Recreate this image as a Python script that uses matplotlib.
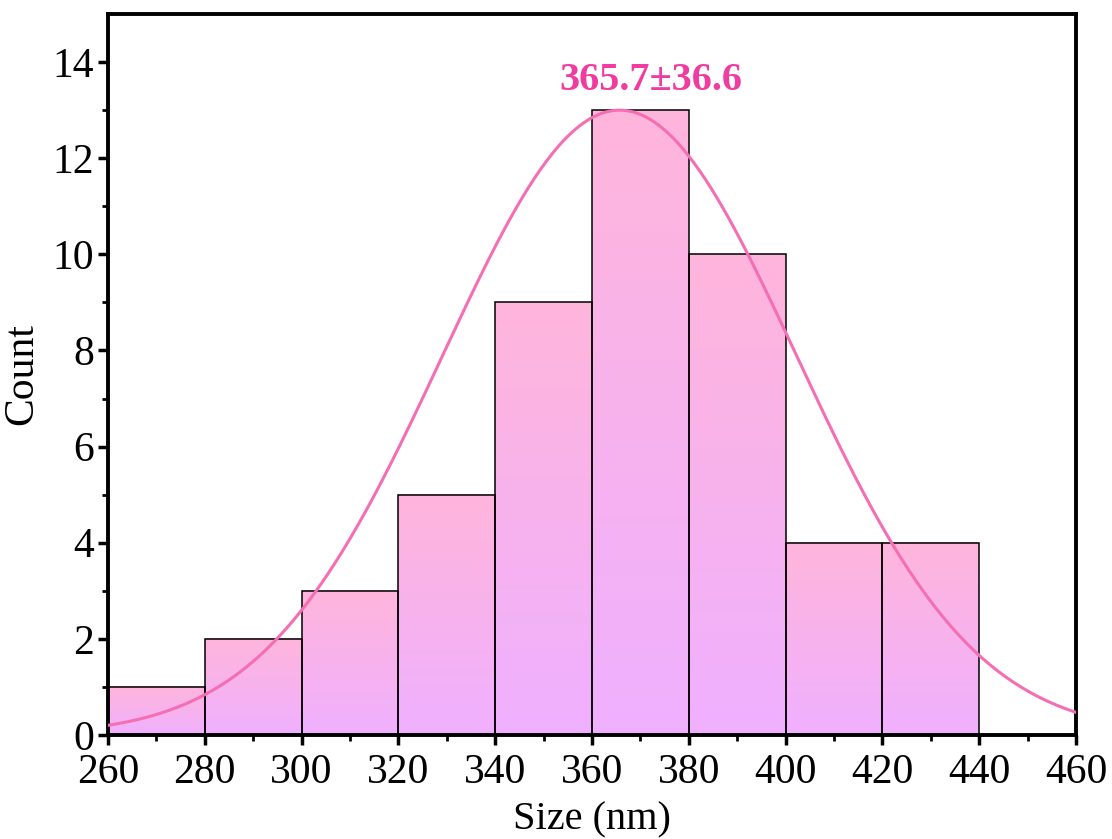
import numpy as np
import matplotlib
matplotlib.use("Agg")
import matplotlib.pyplot as plt
from matplotlib.colors import LinearSegmentedColormap

plt.rcParams['font.family'] = ['Liberation Serif', 'DejaVu Serif']
plt.rcParams['mathtext.fontset'] = 'stix'

bin_edges = [260, 280, 300, 320, 340, 360, 380, 400, 420, 440]
counts = [1, 2, 3, 5, 9, 13, 10, 4, 4]
mean_size = 365.7
std_size = 36.6
fit_peak = 13.0
label_text = "365.7±36.6"

fig = plt.figure(figsize=(11.12, 8.39), dpi=100)
ax = fig.add_axes([0.0971, 0.124, 0.8705, 0.8593])

cmap = LinearSegmentedColormap.from_list("pg", [(0.94, 0.69, 1.0), (1.0, 0.71, 0.86)])
grad = np.linspace(0, 1, 256).reshape(-1, 1)

for i, c in enumerate(counts):
    left = bin_edges[i]
    right = bin_edges[i + 1]
    ax.imshow(grad, extent=[left, right, 0, c], origin='lower', cmap=cmap,
              aspect='auto', zorder=1, interpolation='bicubic')

widths = np.diff(bin_edges)
ax.bar(bin_edges[:-1], counts, width=widths, align='edge', facecolor='none',
       edgecolor='black', linewidth=1.1, zorder=2)

xs = np.linspace(260, 460, 500)
ys = fit_peak * np.exp(-(xs - mean_size) ** 2 / (2 * std_size ** 2))
ax.plot(xs, ys, color='#F56EB4', linewidth=2.2, zorder=3)

ax.text(372.2, 13.62, label_text, ha='center', va='center', fontsize=29,
        fontweight='bold', color='#F03CA0', zorder=4)

ax.set_xlim(260, 460)
ax.set_ylim(0, 15)
ax.set_xticks(np.arange(260, 461, 20))
ax.set_xticks(np.arange(270, 460, 20), minor=True)
ax.set_yticks(np.arange(0, 15, 2))
ax.set_yticks(np.arange(1, 15, 2), minor=True)

for s in ax.spines.values():
    s.set_linewidth(2.8)
ax.tick_params(axis='both', which='major', direction='out', length=7, width=2.5,
               labelsize=30, top=False, right=False)
ax.tick_params(axis='x', which='major', pad=6)
ax.tick_params(axis='y', which='major', pad=3)
ax.tick_params(axis='both', which='minor', direction='out', length=4.5, width=2.0,
               top=False, right=False)
ax.set_xlabel('Size (nm)', fontsize=29, labelpad=7)
ax.set_ylabel('Count', fontsize=30, labelpad=8)

fig.savefig('out.png', dpi=100)
